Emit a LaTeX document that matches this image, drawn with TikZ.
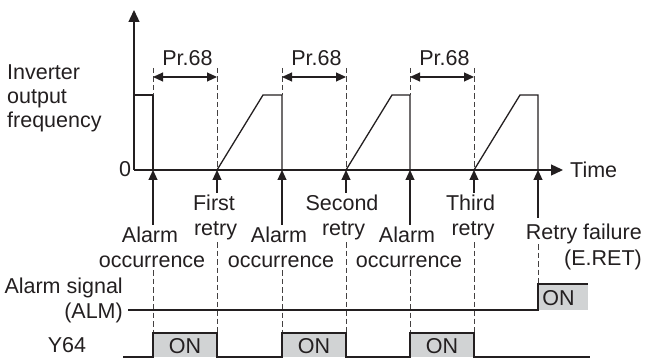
\documentclass[tikz,border=0pt]{standalone}
\usepackage{fontspec}
\setmainfont{Liberation Sans}
\usetikzlibrary{arrows.meta}
\definecolor{ink}{RGB}{35,31,32}
\definecolor{ongray}{RGB}{209,211,212}
\begin{document}
\begin{tikzpicture}[x=1pt,y=-1pt,
  ln/.style={line width=1.3pt,draw=ink},
  thin/.style={line width=1.1pt,draw=ink},
  dsh/.style={line width=0.9pt,draw=ink!85,dash pattern=on 5.5pt off 3pt},
  bigtip/.style={-{Triangle[length=12pt,width=11pt]}},
  smalltip/.style={-{Triangle[length=10pt,width=9pt]}},
  dbl/.style={{Triangle[length=10pt,width=9pt]}-{Triangle[length=10pt,width=9pt]}},
  lbl/.style={font=\fontsize{21.5}{25}\selectfont,inner sep=0pt,text=ink},
  onfill/.style={fill=ongray}]
\useasboundingbox (0,0) rectangle (645,358);

% axes
\coordinate (O) at (134,170);
\coordinate (ytop) at (134,10);
\coordinate (xend) at (563,170);
\draw[ln,bigtip] (O) -- (ytop);
\draw[ln,bigtip] (O) -- (xend);
\node[lbl,anchor=base west] (time) at (570,178) {Time};
\node[lbl,anchor=base] (zero) at (125,177) {0};

% left labels
\node[lbl,anchor=base west] (inv1) at (7,80) {Inverter};
\node[lbl,anchor=base west] (inv2) at (7,104) {output};
\node[lbl,anchor=base west] (inv3) at (7,128) {frequency};
\node[lbl,anchor=base east] (alm1) at (123,293) {Alarm signal};
\node[lbl,anchor=base east] (alm2) at (123,318) {(ALM)};
\node[lbl,anchor=base] (y64) at (67,352) {Y64};

% frequency waveform
\draw[ln] (134,95) -- (153,95) -- (153,170);
\foreach \r/\f/\a in {217/263/282, 346/392/410, 474/520/538}
  \draw[ln] (\r,170) -- (\f,95) -- (\a,95) -- (\a,170);

% top dashed lines and Pr.68 arrows
\foreach \a/\r/\n in {153/217/1, 282/346/2, 410/474/3}{
  \draw[dsh] (\a,68) -- (\a,95);
  \draw[dsh] (\r,68) -- (\r,170);
  \coordinate (pa\n) at (\a,77);
  \coordinate (pb\n) at (\r,77);
  \draw[thin,dbl] (pa\n) -- (pb\n);
  \node[lbl,anchor=base] (pr\n) at ({(\a+\r)/2+2.5},66) {Pr.68};
}

% event arrows
\foreach \x/\n in {153/1, 282/2, 410/3}{
  \coordinate (ea\n) at (\x,170);
  \draw[thin,smalltip] (\x,225) -- (ea\n);
  \draw[dsh] (\x,270) -- (\x,333);
}
\foreach \x/\n in {217/1, 346/2, 474/3}{
  \coordinate (er\n) at (\x,170);
  \draw[thin,smalltip] (\x,193) -- (er\n);
  \draw[dsh] (\x,242) -- (\x,333);
}
\coordinate (ef) at (538,170);
\draw[thin,smalltip] (538,218) -- (ef);
\draw[dsh] (538,244) -- (538,284);

% event labels
\foreach \x/\n in {153/1, 282/2, 410/3}{
  \node[lbl,anchor=base] (al\n) at (\x-3,242) {Alarm};
  \node[lbl,anchor=base] (oc\n) at (\x-1,267) {occurrence};
}
\node[lbl,anchor=base] (fi) at (214,211) {First};
\node[lbl,anchor=base] (rt1) at (215.5,235) {retry};
\node[lbl,anchor=base] (se) at (342,211) {Second};
\node[lbl,anchor=base] (rt2) at (343.5,235) {retry};
\node[lbl,anchor=base] (th) at (470.5,211) {Third};
\node[lbl,anchor=base] (rt3) at (473,235) {retry};
\node[lbl,anchor=base east] (rf) at (642,240) {Retry failure};
\node[lbl,anchor=base east] (er) at (642,265) {(E.RET)};

% alarm signal
\fill[onfill] (538,284) rectangle (588,310);
\draw[ln] (128,310) -- (538,310) -- (538,284) -- (588,284);
\node[lbl,anchor=base] (on4) at (558.5,305) {ON};

% Y64
\foreach \a/\r/\n in {153/217/1, 282/346/2, 410/474/3}{
  \fill[onfill] (\a,333) rectangle (\r,357);
  \node[lbl,anchor=base] (on\n) at ({(\a+\r)/2},353) {ON};
}
\draw[ln] (123,357) -- (153,357) -- (153,333) -- (217,333) -- (217,357)
  -- (282,357) -- (282,333) -- (346,333) -- (346,357)
  -- (410,357) -- (410,333) -- (474,333) -- (474,357) -- (590,357);
\end{tikzpicture}
\end{document}
